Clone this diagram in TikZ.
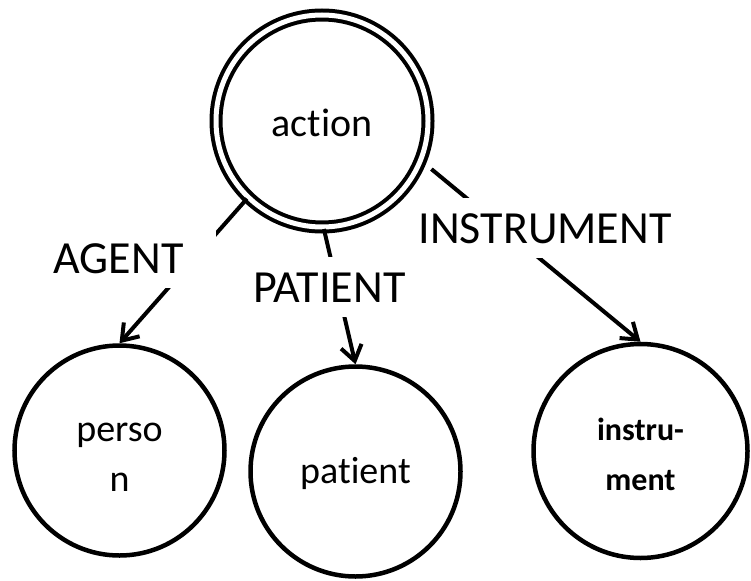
\documentclass[tikz,border=0pt]{standalone}
\usepackage{fontspec}
\setmainfont{Carlito}[Ligatures=NoCommon]
\usetikzlibrary{arrows.meta}
\begin{document}
\begin{tikzpicture}[x=1pt,y=-1pt,
  concept/.style={circle, draw, line width=4.5pt, inner sep=0pt,
    minimum size=210pt, align=center, font=\fontsize{38}{45}\selectfont},
  mainconcept/.style={circle, draw, double, line width=4pt, double distance=5pt,
    inner sep=0pt, minimum size=212pt, font=\fontsize{40}{44}\selectfont},
  rel/.style={draw, line width=4pt, -{Straight Barb[length=15pt,width=21pt]}},
  rellabel/.style={fill=white, font=\fontsize{46}{48}\selectfont,
    text height=30pt, text depth=0pt, inner ysep=15pt, inner xsep=6pt}]
  \useasboundingbox (0,0) rectangle (751,580);

  % concepts
  \node[mainconcept, text height=32pt, text depth=0pt] (action) at (322,121) {action};
  \node[concept] (person) at (119.5,450.5) {\rule{0pt}{31pt}perso\\[5pt]n};
  \node[concept, text height=32pt, text depth=9pt] (patient) at (355.5,471.5) {patient};
  \node[concept, minimum size=214pt, font=\bfseries\fontsize{32}{45}\selectfont]
    (instrument) at (640.5,451) {\rule{0pt}{30pt}instru-\\[5pt]ment};

  % case relations
  \draw[rel] (action.-134) -- (person.north);
  \draw[rel] (action.-89) -- (patient.north);
  \draw[rel, shorten <=12pt] (action.-22) -- (instrument.north);

  % relation names, set over the connectors
  \node[rellabel, inner xsep=33pt] (agent) at (118.5,258) {AGENT};
  \node[rellabel] (patientrel) at (329.5,287) {PATIENT};
  \node[rellabel] (instrumentrel) at (545,228) {INSTRUMENT};
\end{tikzpicture}
\end{document}
